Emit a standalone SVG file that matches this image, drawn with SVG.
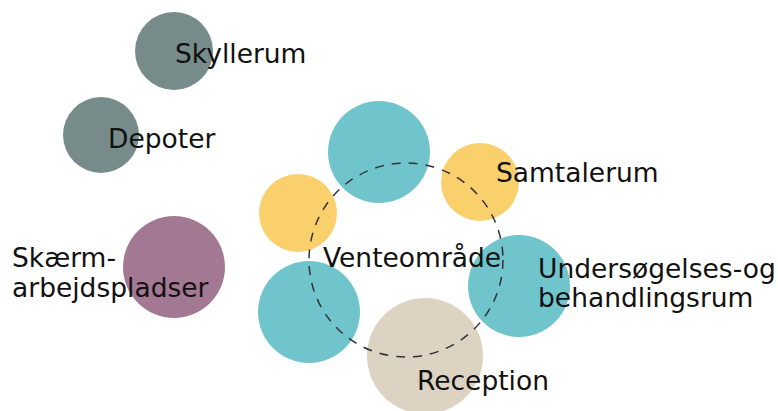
<svg xmlns="http://www.w3.org/2000/svg" width="778" height="411" viewBox="0 0 778 411">
<style>
.lbl{font-family:"DejaVu Sans","Liberation Sans",sans-serif;font-size:26.5px;fill:#111}
.teal{fill:#70c4cb}.yel{fill:#fad06d}.gry{fill:#788b8b}.mauve{fill:#a37892}.beige{fill:#ddd3c3}
</style>
<rect width="778" height="411" fill="#fff"/>
<g id="skyllerum"><circle class="gry" cx="174" cy="51" r="39"/><text class="lbl" x="175" y="63">Skyllerum</text></g>
<g id="depoter"><circle class="gry" cx="101" cy="135" r="38"/><text class="lbl" x="108" y="148">Depoter</text></g>
<g id="skaerm"><circle class="mauve" cx="174" cy="267" r="51"/><text class="lbl" x="12" y="267">Skærm-</text><text class="lbl" x="12" y="297">arbejdspladser</text></g>
<g id="ring-nodes">
<circle id="teal-top" class="teal" cx="379" cy="152" r="51"/>
<circle id="yellow-left" class="yel" cx="298" cy="213" r="39"/>
<circle id="teal-bottom-left" class="teal" cx="309" cy="312" r="51"/>
</g>
<g id="samtalerum"><circle class="yel" cx="480" cy="182" r="39"/></g>
<g id="undersoegelse"><circle class="teal" cx="519" cy="286" r="51"/></g>
<g id="reception"><circle class="beige" cx="425" cy="356" r="58"/></g>
<g id="connectors"><circle cx="406" cy="260" r="97" fill="none" stroke="#333" stroke-width="1.5" stroke-dasharray="9 8"/></g>
<g id="labels">
<text class="lbl" x="496" y="182">Samtalerum</text>
<text class="lbl" x="538" y="278">Undersøgelses-og</text>
<text class="lbl" x="538" y="307">behandlingsrum</text>
<text class="lbl" x="417" y="390">Reception</text>
<text class="lbl" x="323" y="267">Venteområde</text>
</g>
</svg>
